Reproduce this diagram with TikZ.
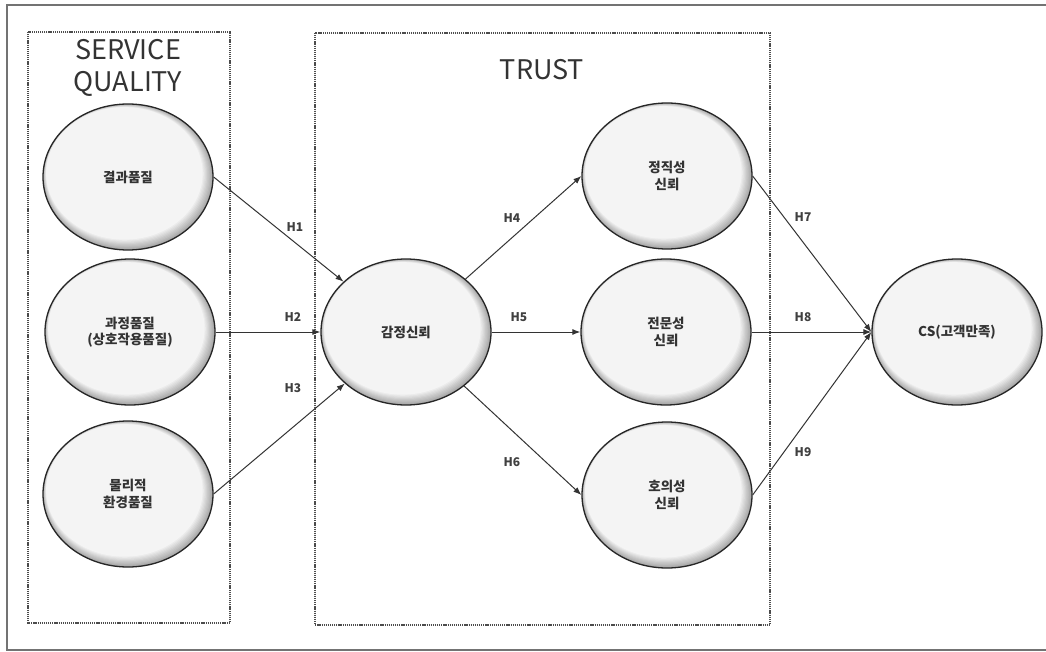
\documentclass[tikz,border=0pt]{standalone}
\usepackage{fontspec}
\setmainfont{Noto Sans CJK KR}
\usetikzlibrary{arrows.meta,shapes.geometric}
\begin{document}
\begin{tikzpicture}[x=1pt,y=-1pt,
  bub/.style={ellipse, minimum width=170pt, minimum height=146pt, inner sep=0pt,
    draw=black!85, line width=1.3pt, align=center,
    font=\fontsize{13.5}{16.5}\selectfont\bfseries, text=black!80,
    path picture={
      \foreach \i in {0,...,9}{
        \pgfmathtruncatemacro\c{70-6.7*\i}
        \pgfmathsetmacro\rx{85-0.75*\i}
        \pgfmathsetmacro\ry{73-0.75*\i}
        \pgfmathsetmacro\sh{0.4*\i}
        \fill[gray!\c] ([xshift=-\sh pt,yshift=\sh pt]path picture bounding box.center)
          ellipse [x radius=\rx pt, y radius=\ry pt];
      }
    }},
  hlab/.style={font=\fontsize{12}{14}\selectfont\bfseries, text=black!75, inner sep=0pt},
  ttl/.style={font=\fontsize{27}{33}\selectfont, text=black!80, align=center, inner sep=0pt},
  grp/.style={draw=black!70, line width=1.6pt, dash pattern=on 1.2pt off 0.9pt},
  arr/.style={draw=black!80, line width=1pt, -{Latex[length=8pt,width=6pt]}}
]
\clip (0,0) rectangle (1046,652);
\fill[white] (0,0) rectangle (1046,652);
% outer frame (right side outside the picture)
\draw[black!55, line width=2.6pt] (1060,5) -- (7,5) -- (7,650) -- (1060,650);

% group boxes
\draw[grp] (28,32) rectangle (230,623);
\draw[grp] (315,33) rectangle (770,625);

% titles
\node[ttl] (sq) at (128,68) {SERVICE\\[-1pt]QUALITY};
\node[ttl] (tr) at (542,70) {TRUST};

% ellipses
\node[bub] (a1) at (128,177) {결과품질};
\node[bub] (a2) at (130,332) {과정품질\\(상호작용품질)};
\node[bub] (a3) at (128,494) {물리적\\환경품질};
\node[bub] (b)  at (406,332) {감정신뢰};
\node[bub] (c1) at (667,176) {정직성\\신뢰};
\node[bub] (c2) at (666,332) {전문성\\신뢰};
\node[bub] (c3) at (667,495) {호의성\\신뢰};
\node[bub] (d)  at (957,332) {CS(고객만족)};

% connectors
\draw[arr] (a1.east) -- (b);
\draw[arr] (a2.east) -- (b.west);
\draw[arr] (a3.east) -- (b);
\draw[arr] (b) -- (c1.west);
\draw[arr] (b.east) -- (c2.west);
\draw[arr] (b) -- (c3.west);
\draw[arr] (c1.east) -- (d.west);
\draw[arr] (c2.east) -- (d.west);
\draw[arr] (c3.east) -- (d.west);

% labels
\node[hlab] (h1) at (295,227) {H1};
\node[hlab] (h2) at (293,317) {H2};
\node[hlab] (h3) at (293,388) {H3};
\node[hlab] (h4) at (512,218) {H4};
\node[hlab] (h5) at (519,317) {H5};
\node[hlab] (h6) at (512,462) {H6};
\node[hlab] (h7) at (803,217) {H7};
\node[hlab] (h8) at (803,317) {H8};
\node[hlab] (h9) at (803,452) {H9};
\end{tikzpicture}
\end{document}
